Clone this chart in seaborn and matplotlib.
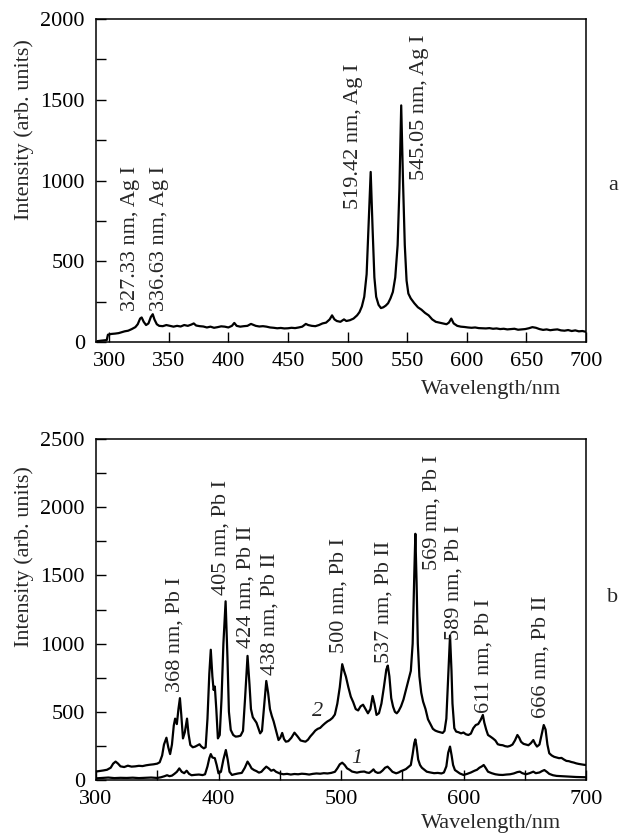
import matplotlib
matplotlib.use("Agg")
import matplotlib.pyplot as plt
from matplotlib.ticker import MultipleLocator
import seaborn as sns
import pandas as pd

# ---------------- panel a: Ag spectrum ----------------
ag_nm = [290, 293, 296, 298, 299, 302, 305, 308, 311, 313, 316, 319, 322, 324, 326, 327.3, 329, 331, 333, 335,
         336.6, 338, 340, 342, 345, 348, 351, 354, 357, 360, 363, 366, 369, 371, 373, 376, 379, 382, 385, 388,
         391, 394, 397, 400, 403, 405, 407, 410, 413, 416, 419, 421, 423, 426, 429, 432, 435, 438, 441, 444,
         447, 450, 453, 456, 459, 462, 465, 467, 470, 473, 476, 479, 482, 485, 487, 489, 491, 494, 497, 499,
         502, 505, 508, 510, 512, 514, 516, 517.5, 519.4, 521, 522.5, 524, 526, 528, 530, 532, 534, 536, 538, 540,
         542, 543.5, 545, 546.5, 548, 549.5, 551, 553, 556, 559, 562, 565, 568, 571, 574, 577, 580, 583, 585, 587,
         589, 592, 595, 598, 601, 604, 607, 610, 613, 616, 619, 622, 625, 628, 631, 634, 637, 640, 643, 646,
         649, 652, 655, 658, 661, 664, 667, 670, 673, 676, 679, 682, 685, 688, 691, 694, 697, 700]
ag_int = [5, 8, 10, 12, 45, 50, 52, 55, 62, 66, 70, 80, 92, 110, 145, 152, 125, 105, 115, 155,
          172, 140, 110, 100, 98, 105, 100, 95, 100, 96, 105, 100, 108, 115, 102, 98, 96, 90, 95, 88,
          92, 97, 95, 90, 100, 118, 100, 95, 98, 100, 112, 106, 100, 96, 98, 95, 90, 88, 85, 87,
          84, 85, 88, 86, 90, 95, 112, 105, 100, 98, 105, 115, 120, 140, 165, 140, 130, 125, 140, 130,
          135, 145, 165, 185, 220, 280, 420, 700, 1053, 700, 400, 280, 230, 210, 215, 225, 240, 270, 310, 400,
          600, 950, 1465, 1000, 600, 380, 300, 270, 240, 215, 200, 180, 165, 140, 125, 120, 115, 110, 120, 145,
          115, 100, 95, 93, 90, 88, 90, 86, 85, 84, 86, 82, 84, 80, 82, 78, 80, 82, 76, 78,
          80, 85, 92, 88, 80, 75, 78, 73, 76, 78, 72, 70, 74, 68, 72, 66, 68, 63]

ag_labels = ["327.33 nm, Ag I", "336.63 nm, Ag I", "519.42 nm, Ag I", "545.05 nm, Ag I"]
ag_label_x = [318, 342, 504.7, 560.5]
ag_label_y = [192, 192, 826, 1001]

# ---------------- panel b: Pb spectra ----------------
pb2_nm = [300, 303, 306, 309, 312, 314, 316, 318, 320, 323, 326, 329, 332, 335, 338, 341, 344, 347, 350, 352,
          354, 355.5, 357.5, 359, 360.5, 362, 363.5, 364.6, 366, 367.3, 368.5, 369.6, 371, 372.5, 374.3, 375.5, 377, 379, 381, 383,
          384.5, 386, 388, 389.5, 391, 392.5, 393.7, 395, 396, 397, 398.2, 399.5, 401, 402.5, 404, 405.8, 407.3, 408.5, 410, 412,
          414, 416, 418, 420, 421.7, 423.7, 425.3, 426.5, 428, 429.5, 431, 432.5, 434, 435.5, 437, 439, 440.5, 442, 443.5, 445,
          447, 449, 450.5, 452, 453.5, 455, 457, 459.5, 462, 464.5, 467, 469, 471, 473, 475, 477, 479, 481, 483, 485,
          487, 489, 491, 493, 495, 497, 499, 501, 502.5, 504, 506, 508, 510, 512, 514, 516, 518, 520, 522, 524,
          525.8, 527.3, 529, 531, 533, 535, 537, 538.2, 539.5, 541, 542.5, 544, 545.5, 547, 549, 551, 553, 555, 557, 558.5,
          559.8, 560.7, 561.7, 562.7, 564, 565.5, 567, 569, 571, 573, 575, 577, 579, 581, 583, 584.5, 586, 587.5, 589, 590.2,
          591, 592.5, 594, 596, 598, 600, 602, 604, 606, 608, 610, 612, 614, 615.8, 617, 618.5, 620, 622, 624, 626,
          628, 630, 632, 634, 636, 638, 640, 642, 644, 645.5, 647, 649, 651, 653, 655, 657, 658.5, 660, 662, 663.5,
          665.5, 667, 668.5, 670, 672, 674, 676, 678, 680, 682, 684, 686, 688, 690, 692, 694, 696, 698, 700]
pb2_int = [62, 66, 70, 75, 90, 120, 135, 120, 100, 95, 105, 98, 100, 104, 102, 108, 112, 115, 120, 130,
           180, 260, 310, 240, 190, 260, 400, 450, 410, 520, 600, 480, 305, 350, 450, 340, 257, 240, 245, 255,
           262, 245, 232, 240, 450, 780, 955, 760, 660, 685, 520, 305, 330, 600, 1000, 1310, 900, 500, 367, 330,
           318, 320, 325, 360, 600, 910, 700, 520, 460, 440, 420, 380, 342, 360, 520, 726, 640, 520, 470, 430,
           360, 293, 310, 345, 300, 281, 285, 310, 347, 320, 290, 285, 281, 295, 320, 340, 362, 375, 382, 400,
           416, 430, 440, 455, 480, 560, 680, 849, 800, 758, 680, 611, 570, 520, 510, 540, 552, 520, 489, 520,
           616, 560, 477, 490, 560, 680, 810, 839, 760, 600, 538, 500, 489, 505, 540, 590, 660, 730, 800, 1000,
           1500, 1805, 1450, 1000, 760, 640, 575, 520, 445, 410, 375, 362, 355, 350, 345, 360, 450, 750, 1060, 800,
           560, 380, 355, 350, 342, 348, 335, 330, 340, 380, 403, 410, 440, 477, 420, 370, 330, 318, 305, 290,
           262, 257, 255, 248, 245, 250, 260, 290, 330, 310, 280, 265, 260, 255, 270, 293, 265, 245, 260, 320,
           403, 370, 260, 196, 180, 170, 165, 160, 162, 150, 140, 138, 132, 128, 122, 118, 115, 112, 110]

pb1_nm = [300, 305, 310, 315, 320, 325, 330, 335, 340, 345, 350, 353, 356, 358, 360, 362, 364, 366, 368, 370,
          372, 374, 376, 378, 381, 384, 387, 389, 391, 392.5, 393.7, 395, 397, 398.5, 400, 402, 404, 406, 407.5, 409,
          411, 413, 416, 419, 421.5, 423.7, 425.5, 427, 429, 431, 433, 435, 437, 439, 441, 443, 445, 447, 450, 453,
          456, 459, 462, 465, 468, 471, 474, 477, 480, 483, 486, 489, 492, 495, 497, 499, 501, 503, 505, 507,
          509, 511, 513, 516, 519, 521, 523, 525, 526.5, 528, 530, 532, 534, 536, 538, 540, 542, 545, 547, 549,
          551, 553, 555, 557, 558.5, 559.8, 560.7, 561.8, 563, 564.5, 566, 568, 570, 573, 576, 579, 582, 584, 586, 587.5,
          589, 590.3, 591.5, 593, 595, 597, 600, 603, 606, 609, 611, 613, 615, 616.5, 618, 620, 623, 626, 629, 632,
          635, 638, 641, 644, 646, 648, 651, 654, 657, 659, 662, 664, 666, 668, 670, 673, 676, 680, 684, 688,
          692, 696, 700]
pb1_int = [12, 15, 18, 14, 16, 15, 17, 14, 16, 18, 15, 20, 28, 35, 28, 32, 45, 60, 85, 60,
           50, 68, 45, 35, 38, 40, 36, 42, 100, 160, 190, 165, 160, 110, 49, 60, 150, 220, 150, 60,
           37, 42, 48, 52, 90, 135, 110, 85, 73, 65, 54, 60, 80, 98, 85, 68, 75, 60, 48, 42,
           45, 40, 44, 42, 46, 44, 40, 45, 48, 46, 50, 48, 52, 60, 85, 115, 127, 110, 85, 75,
           62, 58, 54, 60, 62, 55, 52, 65, 78, 60, 52, 55, 70, 90, 98, 80, 60, 49, 55, 65,
           72, 80, 95, 110, 190, 270, 298, 240, 150, 110, 90, 75, 61, 55, 50, 52, 48, 55, 100, 200,
           245, 180, 110, 73, 60, 48, 37, 45, 55, 68, 75, 90, 100, 110, 90, 61, 50, 42, 38, 37,
           40, 42, 48, 58, 61, 50, 42, 50, 61, 50, 55, 65, 73, 60, 45, 35, 30, 28, 26, 24,
           22, 21, 20]

pb_labels = ["368 nm, Pb I", "405 nm, Pb I", "424 nm, Pb II", "438 nm, Pb II", "500 nm, Pb I",
             "537 nm, Pb II", "569 nm, Pb I", "589 nm, Pb I", "611 nm, Pb I", "666 nm, Pb II"]
pb_label_x = [364.6, 401.8, 422.8, 442.2, 498.7, 535.2, 574.6, 592.4, 616.6, 663.5]
pb_label_y = [648, 1357, 966, 770, 929, 856, 1541, 1027, 489, 452]

curve_names = ["2", "1"]
curve_name_x = [481, 513]
curve_name_y = [500, 160]

# ---------------- styling ----------------
sns.set_style("ticks")
plt.rcParams['font.family'] = ['Liberation Serif', 'DejaVu Serif']
FS = 16

W, H = 622, 834
fig = plt.figure(figsize=(W / 100, H / 100), dpi=100)
ax1 = fig.add_axes([96 / W, 1 - 342 / H, 490 / W, 323 / H])
ax2 = fig.add_axes([96 / W, 1 - 780 / H, 490 / W, 341 / H])

df_a = pd.DataFrame({"nm": ag_nm, "I": ag_int})
sns.lineplot(data=df_a, x="nm", y="I", ax=ax1, color="black", lw=1.6, estimator=None, sort=False)

df_b2 = pd.DataFrame({"nm": pb2_nm, "I": pb2_int})
df_b1 = pd.DataFrame({"nm": pb1_nm, "I": pb1_int})
sns.lineplot(data=df_b2, x="nm", y="I", ax=ax2, color="black", lw=1.6, estimator=None, sort=False)
sns.lineplot(data=df_b1, x="nm", y="I", ax=ax2, color="black", lw=1.6, estimator=None, sort=False)

for ax in (ax1, ax2):
    for s in ax.spines.values():
        s.set_linewidth(1.1)
        s.set_color("black")
    ax.tick_params(which="both", direction="in", length=7, width=1.0, labelsize=FS,
                   top=False, right=False, colors="black")
    ax.tick_params(axis="y", which="both", pad=8)
    ax.tick_params(axis="x", which="both", pad=7)
    ax.set_xlabel("Wavelength/nm", fontsize=FS)
    ax.set_ylabel("Intensity (arb. units)", fontsize=FS)

ax1.set_xlim(289, 700)
ax1.set_ylim(0, 2000)
ax1.xaxis.set_major_locator(MultipleLocator(50))
ax1.yaxis.set_major_locator(MultipleLocator(500))
ax1.yaxis.set_minor_locator(MultipleLocator(250))
ax1.xaxis.set_label_coords(0.806, -0.117)
ax1.yaxis.set_label_coords(-0.127, 0.658)

ax2.set_xlim(300, 700)
ax2.set_ylim(0, 2500)
ax2.xaxis.set_major_locator(MultipleLocator(100))
ax2.xaxis.set_minor_locator(MultipleLocator(50))
ax2.yaxis.set_major_locator(MultipleLocator(500))
ax2.yaxis.set_minor_locator(MultipleLocator(250))
ax2.xaxis.set_label_coords(0.806, -0.1)
ax2.yaxis.set_label_coords(-0.127, 0.654)

for t, x, y in zip(ag_labels, ag_label_x, ag_label_y):
    ax1.text(x, y, t, rotation=90, ha="center", va="bottom", fontsize=FS)
for t, x, y in zip(pb_labels, pb_label_x, pb_label_y):
    ax2.text(x, y, t, rotation=90, ha="center", va="bottom", fontsize=FS)
for t, x, y in zip(curve_names, curve_name_x, curve_name_y):
    ax2.text(x, y, t, ha="center", va="center", fontsize=FS, style="italic")

fig.text(613 / W, 1 - 185 / H, "a", ha="center", va="center", fontsize=FS)
fig.text(613 / W, 1 - 598 / H, "b", ha="center", va="center", fontsize=FS)

fig.savefig("out.png", dpi=100)
